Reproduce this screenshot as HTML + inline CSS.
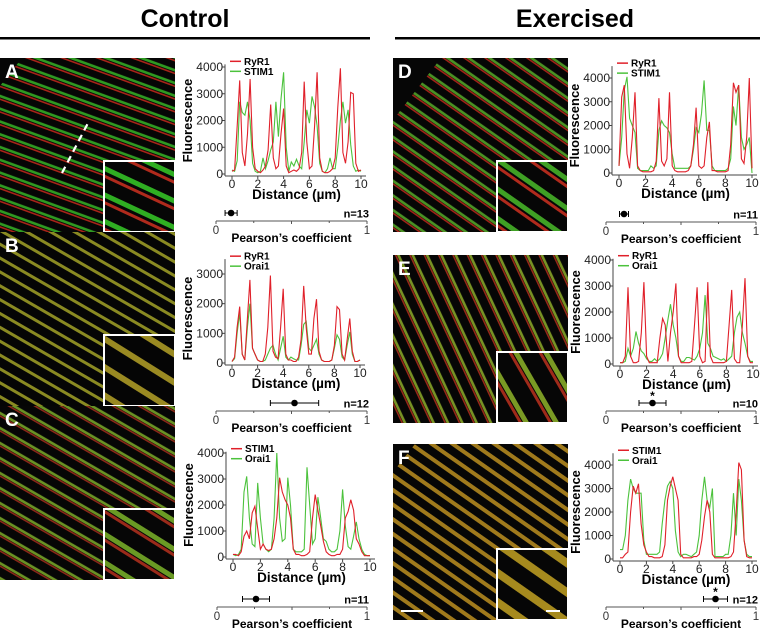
<!DOCTYPE html>
<html><head><meta charset="utf-8"><style>
body{margin:0;background:#fff;width:760px;height:628px;overflow:hidden}
svg{display:block;font-family:"Liberation Sans",sans-serif}
</style></head><body>
<svg id="fig" width="760" height="628" viewBox="0 0 760 628" xmlns="http://www.w3.org/2000/svg">
<defs>
<pattern id="pA" width="12" height="12" patternUnits="userSpaceOnUse" patternTransform="rotate(-70)"><rect width="12" height="12" fill="#060606"/><rect x="2" width="1.6" height="12" fill="#a82418"/><rect x="4.5" width="2.6" height="12" fill="#2f9a22"/></pattern>
<pattern id="pAi" width="24" height="24" patternUnits="userSpaceOnUse" patternTransform="rotate(-65)"><rect width="24" height="24" fill="#060606"/><rect x="3" width="3" height="24" fill="#b02a1c"/><rect x="9" width="5" height="24" fill="#2fae22"/></pattern>
<pattern id="pB" width="12" height="12" patternUnits="userSpaceOnUse" patternTransform="rotate(-60)"><rect width="12" height="12" fill="#050505"/><rect x="3" width="3" height="12" fill="#8a8a22"/></pattern>
<pattern id="pBi" width="24" height="24" patternUnits="userSpaceOnUse" patternTransform="rotate(-58)"><rect width="24" height="24" fill="#050505"/><rect x="5" width="6" height="24" fill="#9a8a22"/></pattern>
<pattern id="pC" width="13" height="13" patternUnits="userSpaceOnUse" patternTransform="rotate(-60)"><rect width="13" height="13" fill="#060606"/><rect x="3" width="1.6" height="13" fill="#8a2818"/><rect x="5" width="2.6" height="13" fill="#6a9224"/></pattern>
<pattern id="pCi" width="24" height="24" patternUnits="userSpaceOnUse" patternTransform="rotate(-58)"><rect width="24" height="24" fill="#060606"/><rect x="4" width="3" height="24" fill="#9a2a1a"/><rect x="8" width="5" height="24" fill="#6a9a24"/></pattern>
<pattern id="pD" width="12" height="12" patternUnits="userSpaceOnUse" patternTransform="rotate(-55)"><rect width="12" height="12" fill="#060606"/><rect x="2" width="1.6" height="12" fill="#a02418"/><rect x="4" width="2.6" height="12" fill="#4a9224"/></pattern>
<pattern id="pDi" width="24" height="24" patternUnits="userSpaceOnUse" patternTransform="rotate(-55)"><rect width="24" height="24" fill="#060606"/><rect x="3" width="3" height="24" fill="#b02a1c"/><rect x="8" width="5" height="24" fill="#3fa024"/></pattern>
<pattern id="pE" width="13" height="13" patternUnits="userSpaceOnUse" patternTransform="rotate(-25)"><rect width="13" height="13" fill="#060606"/><rect x="3" width="1.6" height="13" fill="#962818"/><rect x="5" width="2.6" height="13" fill="#789224"/></pattern>
<pattern id="pEi" width="26" height="26" patternUnits="userSpaceOnUse" patternTransform="rotate(-30)"><rect width="26" height="26" fill="#060606"/><rect x="4" width="3" height="26" fill="#a02a1a"/><rect x="8" width="5" height="26" fill="#7a9a24"/></pattern>
<pattern id="pF" width="12" height="12" patternUnits="userSpaceOnUse" patternTransform="rotate(-55)"><rect width="12" height="12" fill="#060606"/><rect x="2" width="4" height="12" fill="#a07a1c"/></pattern>
<pattern id="pFi" width="24" height="24" patternUnits="userSpaceOnUse" patternTransform="rotate(-55)"><rect width="24" height="24" fill="#060606"/><rect x="4" width="8" height="24" fill="#a68a1e"/></pattern>
</defs>
<text x="185" y="27" text-anchor="middle" font-size="25" font-weight="bold">Control</text>
<text x="575" y="27" text-anchor="middle" font-size="25" font-weight="bold">Exercised</text>
<rect x="0" y="37" width="370" height="2.5" fill="#000"/>
<rect x="395" y="37" width="365" height="2.5" fill="#000"/>
<g id="imgs"></g>
<g id="charts"></g>
</svg>
<script>
const distance=[0,0.2,0.4,0.6,0.8,1,1.2,1.4,1.6,1.8,2,2.2,2.4,2.6,2.8,3,3.2,3.4,3.6,3.8,4,4.2,4.4,4.6,4.8,5,5.2,5.4,5.6,5.8,6,6.2,6.4,6.6,6.8,7,7.2,7.4,7.6,7.8,8,8.2,8.4,8.6,8.8,9,9.2,9.4,9.6,9.8,10];
const aRed=[100,150,1800,3500,800,300,1500,3550,1000,200,100,50,150,300,900,2600,600,200,300,1500,2450,300,50,100,150,100,200,800,3450,1200,200,300,1800,3800,600,100,50,50,100,200,600,2500,3950,800,400,1200,3050,3000,400,100,150];
const aGreen=[150,100,500,2700,2300,2200,2700,2000,400,100,50,100,600,200,500,900,1200,2700,1400,2800,3800,1000,100,450,300,550,300,200,1200,2400,1900,2900,2500,1800,400,100,50,200,600,200,200,1000,2000,2700,1900,2400,1100,300,100,150,100];
const bRed=[50,200,1200,1900,300,100,1500,2800,500,300,100,50,50,300,1200,2950,400,200,150,1200,2500,300,100,100,50,50,200,800,2600,1200,300,300,1500,2150,400,100,50,50,50,100,600,1900,1800,300,100,800,1500,400,50,50,100];
const bGreen=[50,150,1000,1700,300,100,1200,2000,500,300,100,50,50,100,300,500,600,300,100,500,900,200,100,200,150,100,100,600,1300,1400,500,400,600,800,300,100,50,50,50,100,500,950,800,200,100,600,1050,300,50,50,100];
const cRed=[100,100,50,200,800,1000,700,1700,1950,1100,300,500,300,250,300,700,1500,3050,2500,2200,2000,1500,300,100,100,50,50,100,200,1500,2400,1800,1200,600,200,100,50,50,100,100,300,1500,1750,2200,1800,700,500,200,50,50,50];
const cGreen=[100,50,100,300,2500,3100,1500,500,400,2850,1500,500,300,200,300,1500,4000,1500,600,700,3050,2000,300,200,200,200,300,3450,2000,500,700,2300,1500,700,600,300,200,200,300,1000,2600,1200,400,300,800,1350,700,300,100,50,50];
const dRed=[300,3200,3700,800,200,1500,3400,300,100,50,50,50,50,100,500,3150,500,300,600,3400,300,100,50,50,50,50,100,300,1200,2750,300,200,300,1500,2150,100,100,50,50,50,50,100,1200,3800,3400,3700,600,400,1500,4000,200];
const dGreen=[300,1500,3500,4050,2300,2000,1700,200,100,100,100,100,300,200,300,1800,2200,2000,1900,1700,800,200,200,200,200,200,200,300,1000,1900,1700,2500,3900,1800,1800,300,100,100,100,100,100,200,600,2800,2000,3700,1500,1000,1200,1500,0];
const eRed=[50,50,300,2950,300,50,50,100,1200,3150,300,50,50,50,50,1000,1750,1500,100,1200,2000,3100,300,50,50,50,50,100,1500,2950,300,50,100,3150,300,50,50,50,50,50,100,1500,2850,200,50,50,1500,3300,300,50,50];
const eGreen=[50,50,100,600,300,600,1250,800,500,400,200,100,100,200,100,200,400,1000,1700,2300,1500,1000,300,100,100,250,250,200,150,300,600,1200,2650,800,600,300,250,200,150,200,100,200,300,1200,1800,2000,1200,800,300,100,100];
const fRed=[50,50,200,300,2000,3100,2800,3200,1500,600,300,100,100,50,50,50,100,600,2500,3100,3500,3000,2500,200,50,50,50,50,100,100,200,800,1800,2500,2000,200,50,50,50,50,50,50,100,300,2000,4100,3800,800,100,50,50];
const fGreen=[400,400,1000,2500,3400,3000,2800,2800,2800,800,200,200,200,200,200,300,1500,2500,3100,3300,3000,1200,300,100,200,200,150,100,200,300,1000,2500,3500,2500,2200,3000,100,100,100,100,200,200,1000,2800,1000,3400,2500,800,200,100,100];
const xTicks=[0,2,4,6,8,10];
const yTicks4=[0,1000,2000,3000,4000];
const yTicks3=[0,1000,2000,3000];
const pearsonMean=[0.10,0.52,0.26,0.12,0.31,0.73];
const pearsonErr=[0.04,0.16,0.09,0.03,0.09,0.08];
const nLabels=["n=13","n=12","n=11","n=11","n=10","n=12"];
const starred=[false,false,false,false,true,true];
const legendA=["RyR1","STIM1"],legendB=["RyR1","Orai1"],legendC=["STIM1","Orai1"];

const NS="http://www.w3.org/2000/svg";
function mk(p,tag,at,txt){const e=document.createElementNS(NS,tag);for(const k in at)e.setAttribute(k,at[k]);if(txt!==undefined)e.textContent=txt;p.appendChild(e);return e;}

const imgs=document.getElementById('imgs');
const panels=[
 {l:'A',x:0,y:58,w:175,h:174,p:'pA',pi:'pAi',corner:true},
 {l:'B',x:0,y:232,w:175,h:174,p:'pB',pi:'pBi'},
 {l:'C',x:0,y:406,w:175,h:174,p:'pC',pi:'pCi'},
 {l:'D',x:393,y:58,w:175,h:174,p:'pD',pi:'pDi',corner:true},
 {l:'E',x:393,y:255,w:175,h:168,p:'pE',pi:'pEi'},
 {l:'F',x:393,y:444,w:175,h:176,p:'pF',pi:'pFi',corner:true,bar:true}];
panels.forEach(P=>{
 const g=mk(imgs,'g',{});
 
 
 mk(g,'rect',{x:P.x,y:P.y,width:P.w,height:P.h,fill:'url(#'+P.p+')'});
 if(P.corner){const big=P.l==='D';mk(g,'path',{d:`M${P.x},${P.y} h${big?48:22} L${P.x},${P.y+(big?62:28)} Z`,fill:'#060606'});}
 const iw=70,ih=70;
 mk(g,'rect',{x:P.x+P.w-iw-1,y:P.y+P.h-ih-1,width:iw+1,height:ih+1,fill:'url(#'+P.pi+')',stroke:'#fff','stroke-width':2});
 const t=mk(g,'text',{x:P.x+5,y:P.y+20,fill:'#fff','font-size':19,'font-weight':'bold'},P.l);
 
 
 if(P.l==='A'){const ln=mk(g,'line',{x1:62,y1:173,x2:88,y2:123,stroke:'#fff','stroke-width':2.2,'stroke-dasharray':'7,5'});}
 if(P.bar){mk(g,'rect',{x:P.x+8,y:P.y+P.h-10,width:22,height:2,fill:'#fff'});mk(g,'rect',{x:P.x+P.w-22,y:P.y+P.h-10,width:14,height:2,fill:'#fff'});}
});

const charts=document.getElementById('charts');
const cfg=[
 {id:'a',x0:232,x10:361,y0:174,yv:4000,yp:67,top:4100,ticks:yTicks4,leg:legendA,r:aRed,g:aGreen,px1:216,px2:367,py:221},
 {id:'b',x0:232,x10:360,y0:363,yv:3000,yp:274,top:3500,ticks:yTicks3,leg:legendB,r:bRed,g:bGreen,px1:216,px2:367,py:411},
 {id:'c',x0:233,x10:370,y0:557,yv:4000,yp:453,top:4050,ticks:yTicks4,leg:legendC,r:cRed,g:cGreen,px1:217,px2:367,py:607},
 {id:'d',x0:619,x10:752,y0:173,yv:4000,yp:78,top:4500,ticks:yTicks4,leg:legendA,r:dRed,g:dGreen,px1:606,px2:756,py:222},
 {id:'e',x0:620,x10:753,y0:364,yv:4000,yp:260,top:4050,ticks:yTicks4,leg:legendB,r:eRed,g:eGreen,px1:606,px2:756,py:411},
 {id:'f',x0:620,x10:752,y0:559,yv:4000,yp:465,top:4500,ticks:yTicks4,leg:legendC,r:fRed,g:fGreen,px1:606,px2:756,py:607}];
cfg.forEach((C,ci)=>{
 const X=v=>C.x0+(C.x10-C.x0)*v/10;
 const Y=v=>C.y0-(C.y0-C.yp)*v/C.yv;
 const g=mk(charts,'g',{});
 
 
 const ax=C.x0-7;
 const ya=mk(g,'line',{x1:ax,y1:Y(C.top),x2:ax,y2:C.y0+2,stroke:'#444','stroke-width':1});
 
 const xa=mk(g,'line',{x1:ax,y1:C.y0+2,x2:C.x10+5,y2:C.y0+2,stroke:'#444','stroke-width':1});
 
 C.ticks.forEach(t=>{
  mk(g,'line',{x1:ax-3,y1:Y(t),x2:ax,y2:Y(t),stroke:'#444'});
  const tl=mk(g,'text',{x:ax-2,y:Y(t)+4,'text-anchor':'end','font-size':12,fill:'#222'},t);
  
 });
 xTicks.forEach(t=>{
  mk(g,'line',{x1:X(t),y1:C.y0+2,x2:X(t),y2:C.y0+5,stroke:'#444'});
  const tl=mk(g,'text',{x:X(t),y:C.y0+14,'text-anchor':'middle','font-size':12,fill:'#222'},t);
  
 });
 const yt=mk(g,'text',{x:0,y:0,transform:`translate(${C.x0-40},${(C.y0+C.yp)/2}) rotate(-90)`,'text-anchor':'middle','font-size':13,'font-weight':'bold'},'Fluorescence');
 
 const xt=mk(g,'text',{x:(C.x0+C.x10)/2,y:C.y0+25,'text-anchor':'middle','font-size':13.5,'font-weight':'bold'},'Distance  (µm)');
 
 [['g','#4cc23c',C.g],['r','#e0202a',C.r]].forEach(([k,col,arr])=>{
  const pts=arr.map((v,i)=>X(distance[i]).toFixed(1)+','+Y(v).toFixed(1)).join(' ');
  const pl=mk(g,'polyline',{points:pts,fill:'none',stroke:col,'stroke-width':1.1});
  
  
 });
 const lt=Y(C.top)-3;
 C.leg.forEach((s,i)=>{
  const ly=lt+i*10;
  const le=mk(g,'g',{});
  
  mk(le,'line',{x1:C.x0-2,y1:ly,x2:C.x0+9,y2:ly,stroke:i===0?'#e0202a':'#4cc23c','stroke-width':1.5});
  mk(le,'text',{x:C.x0+12,y:ly+3.5,'font-size':10,'font-weight':'bold'},s);
 });
 const P=v=>C.px1+(C.px2-C.px1)*v;
 const pg=mk(g,'g',{});
 
 mk(pg,'line',{x1:P(0),y1:C.py,x2:P(1),y2:C.py,stroke:'#555','stroke-width':1});
 [0,0.25,0.5,0.75,1].forEach(t=>mk(pg,'line',{x1:P(t),y1:C.py,x2:P(t),y2:C.py+(t===0.5||t===0||t===1?3:2),stroke:'#555'}));
 mk(pg,'text',{x:P(0),y:C.py+13,'text-anchor':'middle','font-size':11.5,fill:'#333'},'0');
 mk(pg,'text',{x:P(1),y:C.py+13,'text-anchor':'middle','font-size':11.5,fill:'#333'},'1');
 mk(pg,'text',{x:P(0.5),y:C.py+21,'text-anchor':'middle','font-size':12,'font-weight':'bold'},'Pearson’s coefficient');
 const m=pearsonMean[ci],e=pearsonErr[ci],dy=C.py-8;
 const eb=mk(pg,'g',{});
 
 mk(eb,'line',{x1:P(m-e),y1:dy,x2:P(m+e),y2:dy,stroke:'#000','stroke-width':1});
 mk(eb,'line',{x1:P(m-e),y1:dy-3,x2:P(m-e),y2:dy+3,stroke:'#000'});
 mk(eb,'line',{x1:P(m+e),y1:dy-3,x2:P(m+e),y2:dy+3,stroke:'#000'});
 mk(eb,'circle',{cx:P(m),cy:dy,r:3.3,fill:'#000'});
 if(starred[ci])mk(eb,'text',{x:P(m),y:dy-3,'text-anchor':'middle','font-size':12,'font-weight':'bold'},'*');
 const nl=mk(pg,'text',{x:C.px2+2,y:dy+4.5,'text-anchor':'end','font-size':11,'font-weight':'bold'},nLabels[ci]);
 
});
</script>
</body></html>
